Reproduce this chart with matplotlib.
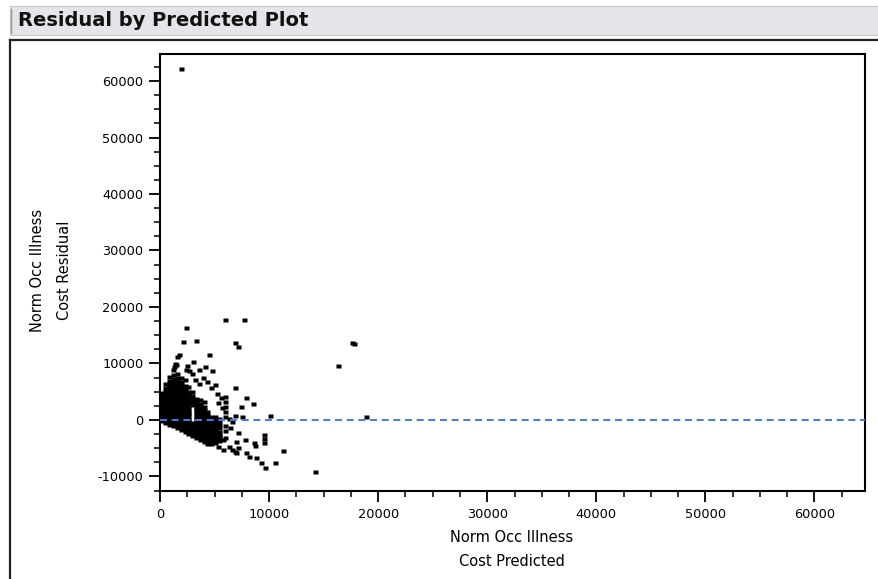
import matplotlib
matplotlib.use("Agg")
import matplotlib.pyplot as plt
from matplotlib.patches import Rectangle
from matplotlib.lines import Line2D
from matplotlib.ticker import MultipleLocator

plt.rcParams['font.family'] = ['DejaVu Sans']

# ---------------- data ----------------
title = "Residual by Predicted Plot"
x_label_lines = ["Norm Occ Illness", "Cost Predicted"]
y_label_lines = ["Norm Occ Illness", "Cost Residual"]
x_ticks = [0, 10000, 20000, 30000, 40000, 50000, 60000]
y_ticks = [-10000, 0, 10000, 20000, 30000, 40000, 50000, 60000]

# dense cluster: predicted value -> residuals observed in that column
cluster_columns = {
    150:  [-100, 300, 700, 1100, 1500, 1900, 2300, 2700, 3100, 3500, 3900, 4300, 4700],
    500:  [-450, -50, 350, 750, 1150, 1550, 1950, 2350, 2750, 3150, 3550, 3950, 4350, 4750, 5150, 5600, 6300],
    850:  [-800, -400, 0, 400, 800, 1200, 1600, 2000, 2400, 2800, 3200, 3600, 4000, 4400, 4800, 5200,
           5600, 6000, 6400, 6900, 7600],
    1200: [-1150, -750, -350, 50, 450, 850, 1250, 1650, 2050, 2450, 2850, 3250, 3650, 4050, 4450, 4850,
           5250, 5650, 6050, 6450, 6850, 7300, 8000, 8800],
    1550: [-1500, -1100, -700, -300, 100, 500, 900, 1300, 1700, 2100, 2500, 2900, 3300, 3700, 4100, 4500,
           4900, 5300, 5700, 6100, 6500, 7000, 7500, 8200],
    1900: [-1850, -1450, -1050, -650, -250, 150, 550, 950, 1350, 1750, 2150, 2550, 2950, 3350, 3750, 4150,
           4550, 4950, 5350, 5750, 6200, 6700, 7400],
    2250: [-2200, -1800, -1400, -1000, -600, -200, 200, 600, 1000, 1400, 1800, 2200, 2600, 3000, 3400,
           3800, 4200, 4600, 5000, 5500, 6100, 7000],
    2600: [-2550, -2150, -1750, -1350, -950, -550, -150, 250, 650, 1050, 1450, 1850, 2250, 2650, 3050,
           3450, 3900, 4400, 5000, 5800],
    2950: [-2900, -2500, -2100, -1700, -1300, -900, -500, 2600, 3000, 3400, 3800, 4300, 4900],
    3300: [-3250, -2850, -2450, -2050, -1650, -1250, -850, -450, -50, 350, 750, 1150, 1550, 1950, 2350,
           2750, 3200, 3800],
    3650: [-3600, -3200, -2800, -2400, -2000, -1600, -1200, -800, -400, 0, 400, 800, 1200, 1600, 2000,
           2400, 2900, 3500],
    4000: [-3950, -3550, -3150, -2750, -2350, -1950, -1550, -1150, -750, -350, 50, 450, 850, 1250, 1700,
           2300, 3100],
    4350: [-4300, -3900, -3500, -3100, -2700, -2300, -1900, -1500, -1100, -700, -300, 100, 500, 900, 1400],
    4700: [-4200, -3800, -3400, -3000, -2600, -2200, -1800, -1400, -1000, -600, -200, 200, 600],
    5050: [-4000, -3600, -3200, -2800, -2400, -2000, -1600, -1200, -800, -400, 0, 500],
    5400: [-3800, -3300, -2700, -2100, -1500, -900, -300, 200],
}

# scattered points outside the dense cluster
scatter_pred = [1940, 6000, 7670, 2350, 2130, 3260, 6910, 7150, 4470, 1730, 1520, 16300, 1280, 1430,
                4080, 2350, 2620, 3620, 4780, 6910, 7880, 8490, 7460, 6910, 7520, 10100, 6000, 6000,
                6000, 6000, 6000, 6000, 6000, 6000, 5630, 7120, 7820, 8580, 8740, 9500, 9500, 9500,
                11260, 6300, 6600, 6910, 7150, 6970, 7850, 8130, 8760, 9280, 9590, 10500, 14200,
                17600, 17800, 18900, 5450, 1400, 3000, 3900, 4300, 4700, 5200, 3600, 3200, 2900,
                5300, 5700, 6300, 6600, 6400, 7000, 5800, 5300, 5800, 5000, 2500]
scatter_resid = [62100, 17700, 17700, 16230, 13860, 14040, 13570, 12970, 11500, 11500, 11100, 9600,
                 9430, 9740, 9430, 8900, 8730, 8850, 8730, 5720, 3840, 2780, 2250, 760, 590, 760,
                 4130, 3240, 2360, 1470, 500, -1060, -1950, -3130, 3840, -2360, -3540, -4130, -4540,
                 -2700, -3400, -4100, -5490, -4800, -5310, -5610, -5010, -5900, -5840, -6500, -6730,
                 -7670, -8440, -7670, -9200, 13700, 13450, 480, -2780, 9900, 10300, 7500, 6800, 5600,
                 4600, 6300, 7000, 8100, 3000, 2200, 200, -300, -1500, -3900, -3500, -4700, -5400,
                 6200, 9600]

# ---------------- figure ----------------
W, H = 879, 579
fig = plt.figure(figsize=(W / 100, H / 100), dpi=100)

def fx(px):
    return px / W

def fy(py):
    return 1 - py / H

# header bar
fig.patches.append(Rectangle((fx(10), fy(35)), 1 - fx(10), fy(6) - fy(35), transform=fig.transFigure,
                             facecolor='#e4e4e9', edgecolor='#c8c8cc', lw=0.8, zorder=0))
fig.lines.append(Line2D([fx(11), fx(11)], [fy(9), fy(33)], transform=fig.transFigure,
                        color='#9a9a9a', lw=1.0))
fig.text(fx(18), fy(21), title, fontsize=14, fontweight='bold', va='center', ha='left', color='#111111')

# outer frame
fig.lines.append(Line2D([fx(10), 1.0], [fy(40), fy(40)], transform=fig.transFigure, color='#222222', lw=1.6))
fig.lines.append(Line2D([fx(10), fx(10)], [fy(40), 0.0], transform=fig.transFigure, color='#222222', lw=1.6))

ax = fig.add_axes([fx(160), fy(491), fx(865) - fx(160), fy(54) - fy(491)])

cx, cy = [], []
for k, vals in cluster_columns.items():
    for v in vals:
        cx.append(k)
        cy.append(v)
px_all = list(cx) + scatter_pred
py_all = list(cy) + scatter_resid

marker = [(-1.0, -0.65), (1.0, -0.65), (1.0, 0.65), (-1.0, 0.65), (-1.0, -0.65)]
ax.plot(px_all, py_all, ls='none', marker=marker, ms=3.6, color='black', mec='none', zorder=2)

ax.axhline(0, color='#3d7ded', lw=1.4, dashes=(3.6, 2.4), zorder=3)

ax.set_xlim(0, 64630)
ax.set_ylim(-12570, 64780)
ax.set_xticks(x_ticks)
ax.set_yticks(y_ticks)
ax.set_xticklabels([str(t) for t in x_ticks])
ax.set_yticklabels([str(t) for t in y_ticks])
ax.xaxis.set_minor_locator(MultipleLocator(2500))
ax.yaxis.set_minor_locator(MultipleLocator(2500))
ax.tick_params(which='major', direction='out', length=8, width=1.3, labelsize=9.3, pad=4, colors='black')
ax.tick_params(which='minor', direction='out', length=4, width=1.1)
for s in ax.spines.values():
    s.set_linewidth(1.5)
    s.set_color('black')

# axis titles (two lines each, as in the reference)
fig.text(fx(512), fy(537), x_label_lines[0], fontsize=10.5, ha='center', va='center')
fig.text(fx(512), fy(562), x_label_lines[1], fontsize=10.5, ha='center', va='center')
fig.text(fx(38), fy(270), y_label_lines[0], fontsize=10.5, ha='center', va='center', rotation=90)
fig.text(fx(65), fy(270), y_label_lines[1], fontsize=10.5, ha='center', va='center', rotation=90)

fig.savefig('out.png', dpi=100)
